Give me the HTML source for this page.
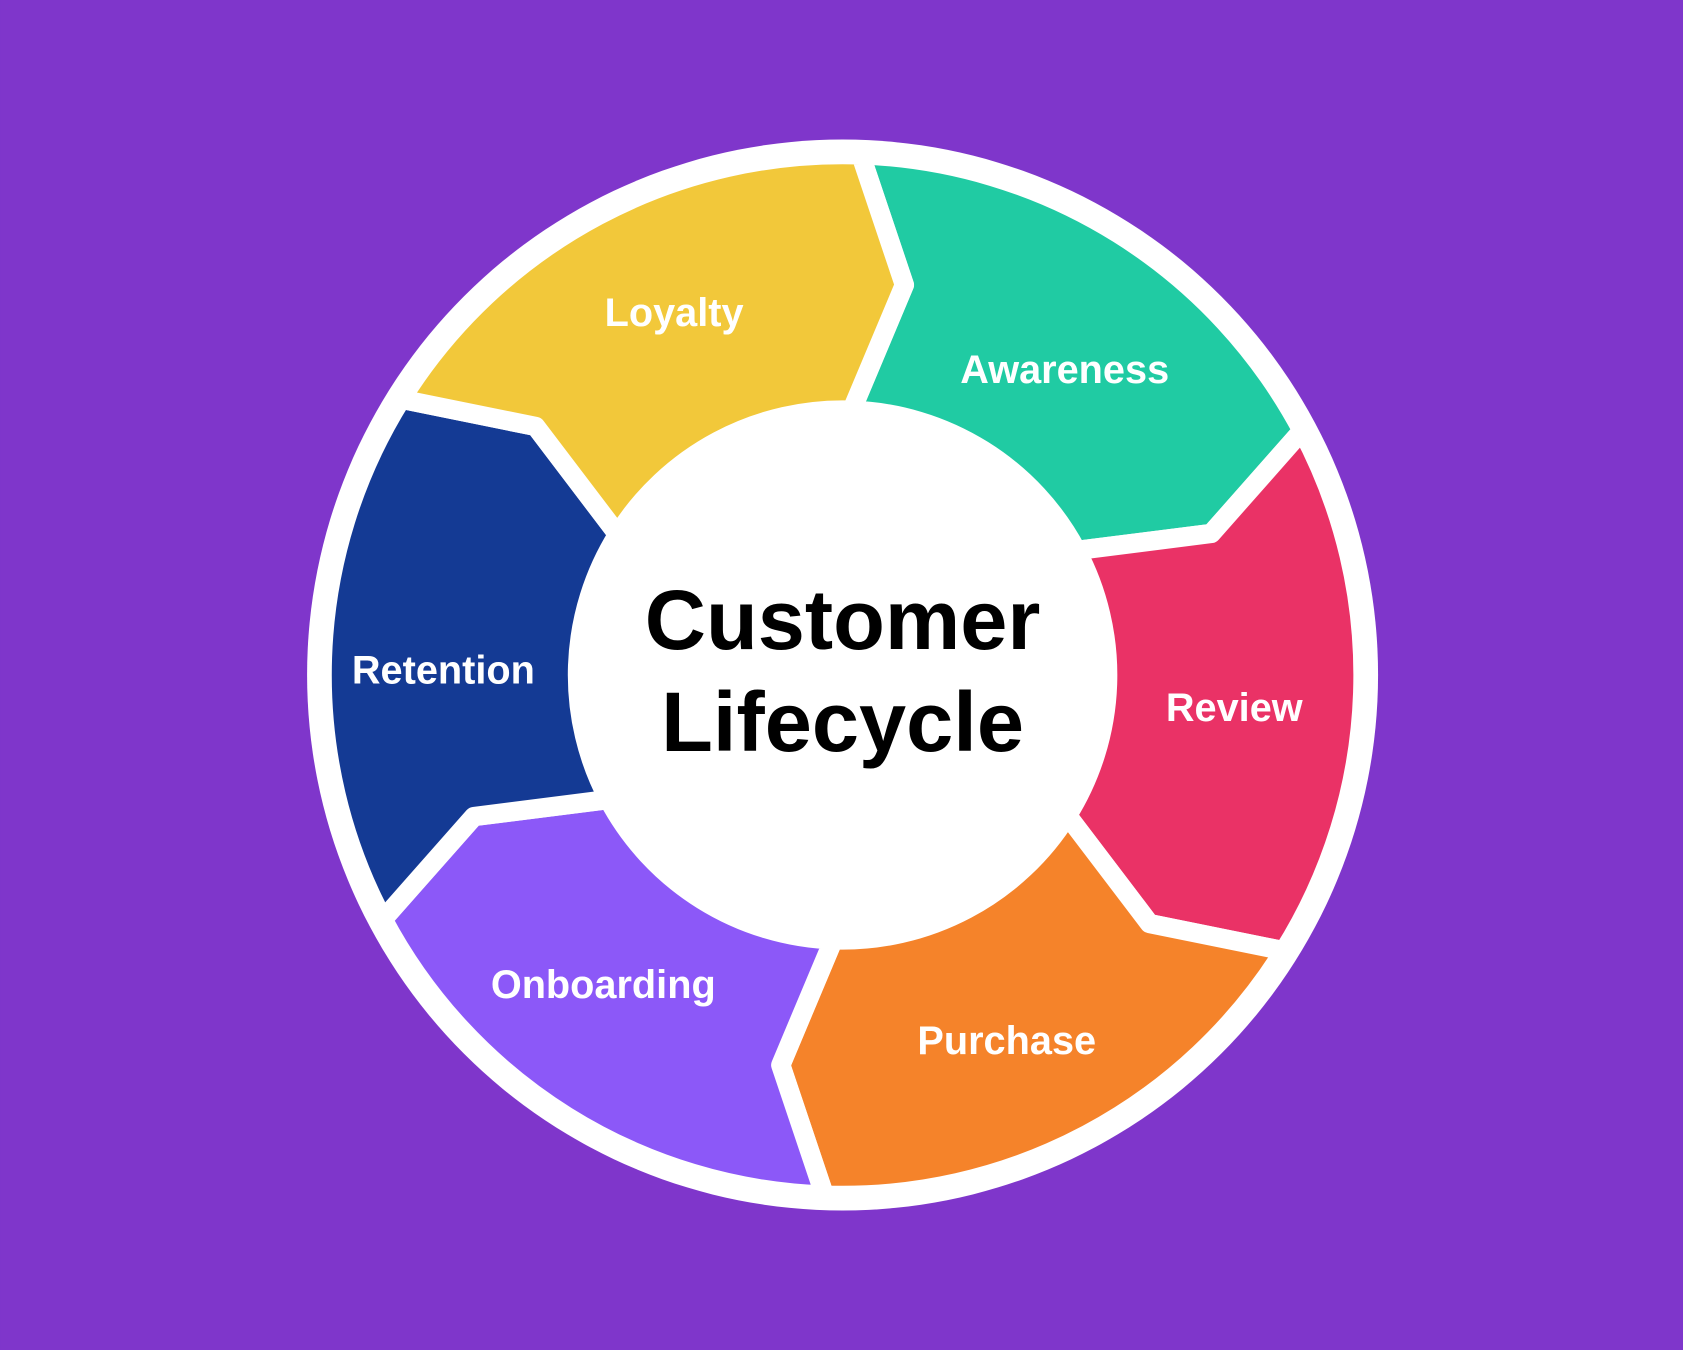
<!DOCTYPE html>
<html><head><meta charset="utf-8"><style>
html,body{margin:0;padding:0;background:#7F36CB;}
svg{display:block;}
text{font-family:"Liberation Sans",Arial,sans-serif;font-weight:bold;}
</style></head><body>
<svg id="s" width="1683" height="1350" viewBox="0 0 1568 1258" xmlns="http://www.w3.org/2000/svg">
<rect width="1568" height="1258" fill="#7F36CB"/>
<circle cx="785" cy="629" r="499" fill="#fff"/>
<g id="segs"></g>
<g fill="#fff" font-size="37" text-anchor="middle">
<text x="628" y="304">Loyalty</text>
<text x="992" y="357">Awareness</text>
<text x="1150" y="672">Review</text>
<text x="938" y="982">Purchase</text>
<text x="562" y="930">Onboarding</text>
<text x="413" y="637">Retention</text>
</g>
<g fill="#000" font-size="79" text-anchor="middle">
<text x="785" y="605">Customer</text>
<text x="785" y="700">Lifecycle</text>
</g>
</svg>
<script>
(function(){
var cx=785,cy=629,R=485,r=247,rm=368,off=7;
var b=[-88,-28,32,92,152,212,272];
var cols=["#20CBA3","#EA3266","#F5832A","#8C58F8","#143A94","#F2C83A"];
function p(a,rad){a=a*Math.PI/180;return (cx+rad*Math.cos(a)).toFixed(1)+","+(cy+rad*Math.sin(a)).toFixed(1);}
var g=document.getElementById("segs"),h="";
for(var k=0;k<6;k++){
 var a0=b[k],a1=b[k+1];
 var d="M"+p(a0,R)+" A"+R+","+R+" 0 0 1 "+p(a1,R)+" L"+p(a1+off,rm)+" L"+p(a1,r)+
  " A"+r+","+r+" 0 0 0 "+p(a0,r)+" L"+p(a0+off,rm)+" Z";
 h+='<path d="'+d+'" fill="'+cols[k]+'" stroke="#fff" stroke-width="18" stroke-linejoin="round"/>';
}
g.innerHTML=h;
})();
</script>
</body></html>
